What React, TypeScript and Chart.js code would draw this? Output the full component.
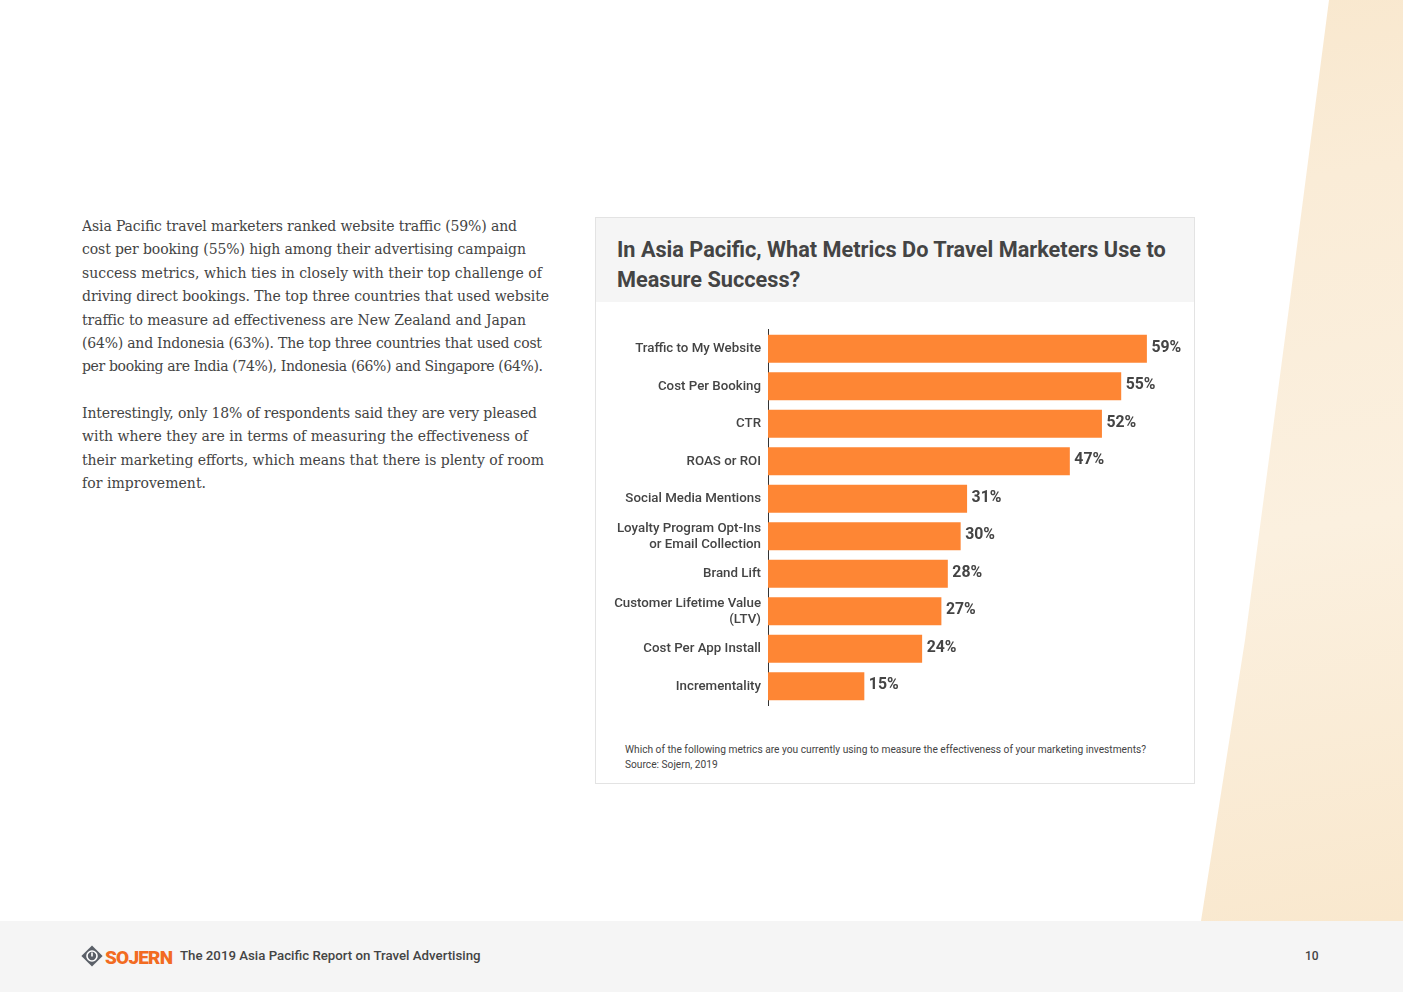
import React, { useEffect, useRef } from "react";
import { Chart, registerables } from "chart.js";

Chart.register(...registerables);

const categories: (string | string[])[] = [
  "Traffic to My Website",
  "Cost Per Booking",
  "CTR",
  "ROAS or ROI",
  "Social Media Mentions",
  ["Loyalty Program Opt-Ins", "or Email Collection"],
  "Brand Lift",
  ["Customer Lifetime Value", "(LTV)"],
  "Cost Per App Install",
  "Incrementality",
];
const values: number[] = [59, 55, 52, 47, 31, 30, 28, 27, 24, 15];

const titleText = "In Asia Pacific, What Metrics Do Travel Marketers Use to Measure Success?";
const footnoteLines = [
  "Which of the following metrics are you currently using to measure the effectiveness of your marketing investments?",
  "Source: Sojern, 2019",
];
const para1 = [
  "Asia Pacific travel marketers ranked website traffic (59%) and",
  "cost per booking (55%) high among their advertising campaign",
  "success metrics, which ties in closely with their top challenge of",
  "driving direct bookings. The top three countries that used website",
  "traffic to measure ad effectiveness are New Zealand and Japan",
  "(64%) and Indonesia (63%). The top three countries that used cost",
  "per booking are India (74%), Indonesia (66%) and Singapore (64%).",
];
const para2 = [
  "Interestingly, only 18% of respondents said they are very pleased",
  "with where they are in terms of measuring the effectiveness of",
  "their marketing efforts, which means that there is plenty of room",
  "for improvement.",
];
// rendered width of each paragraph line (layout)
const para1Widths = [435, 444, 460, 467, 444, 460, 461];
const para2Widths = [455, 446, 462, 124];

const footerText = "The 2019 Asia Pacific Report on Travel Advertising";
const pageNumber = "10";

const BAR = "#fe8634";
const TEXT = "#444444";

const valueLabels = {
  id: "valueLabels",
  afterDatasetsDraw(chart: any) {
    const ctx = chart.ctx;
    const meta = chart.getDatasetMeta(0);
    ctx.save();
    ctx.font = "bold 15.8px Roboto";
    ctx.fillStyle = TEXT;
    ctx.textBaseline = "middle";
    ctx.textAlign = "left";
    meta.data.forEach((bar: any, i: number) => {
      ctx.fillText(values[i] + "%", bar.x + 4.5, bar.y - 1);
    });
    ctx.restore();
  },
};

function BarChart() {
  const ref = useRef<HTMLCanvasElement>(null);
  useEffect(() => {
    if (!ref.current) return;
    const chart = new Chart(ref.current, {
      type: "bar",
      data: {
        labels: categories,
        datasets: [
          {
            data: values,
            backgroundColor: BAR,
            borderWidth: 0,
            barPercentage: 0.75,
            categoryPercentage: 1,
          },
        ],
      },
      options: {
        indexAxis: "y",
        animation: false,
        responsive: false,
        maintainAspectRatio: false,
        layout: { padding: { top: 10, bottom: 5, right: 11, left: 0 } },
        plugins: { legend: { display: false }, tooltip: { enabled: false } },
        scales: {
          x: { display: false, min: 0, max: 64 },
          y: {
            afterFit: (axis: any) => {
              axis.width = 168;
            },
            grid: { display: false, drawTicks: false },
            border: { display: true, color: "#333333", width: 1 },
            ticks: {
              color: TEXT,
              padding: 7,
              font: { family: "Roboto", size: 13.3, weight: "500", lineHeight: 1.2 },
            },
          },
        },
      },
      plugins: [valueLabels],
    } as any);
    return () => chart.destroy();
  }, []);
  return <canvas ref={ref} width={590} height={405} style={{ position: "absolute", left: 600, top: 315, width: 590, height: 405 }} />;
}

function Logo() {
  return (
    <svg width="96" height="24" viewBox="0 0 96 24" style={{ position: "absolute", left: 80, top: 944 }}>
      <g transform="translate(12,12)">
        <rect x="-7.5" y="-7.5" width="15" height="15" fill="#5b6068" transform="rotate(45)" />
        <circle cx="0" cy="0" r="5" fill="none" stroke="#ffffff" strokeWidth="1.6" />
        <rect x="-0.8" y="-3.5" width="1.6" height="4" fill="#ffffff" />
      </g>
      <text x="25" y="19.5" fill="#f26b21" fontFamily="Roboto" fontWeight="900" fontSize="19" letterSpacing="-0.8">
        SOJERN
      </text>
    </svg>
  );
}

function Paragraph({ lines, widths, top }: { lines: string[]; widths: number[]; top: number }) {
  const lh = 23.4;
  return (
    <svg
      width={520}
      height={lines.length * lh + 10}
      style={{ position: "absolute", left: 82, top: top - 16 }}
    >
      {lines.map((l, i) => (
        <text
          key={i}
          x={0}
          y={16 + i * lh}
          fontFamily="'DejaVu Serif', serif"
          fontSize={14}
          fill={TEXT}
          textLength={widths[i]}
          lengthAdjust="spacing"
        >
          {l}
        </text>
      ))}
    </svg>
  );
}

export default function App() {
  useEffect(() => {
    document.body.style.margin = "0";
  }, []);
  return (
    <div style={{ position: "relative", width: 1403, height: 992, overflow: "hidden", background: "#ffffff" }}>
      <div
        style={{
          position: "absolute",
          left: 0,
          top: 0,
          width: 1403,
          height: 921,
          background: "linear-gradient(170deg, #f7e3c4 0%, #faecd7 35%, #fbf0df 65%, #f9e8ce 100%)",
          clipPath: "polygon(1329px 0px, 1403px 0px, 1403px 921px, 1201px 921px, 1245px 640px, 1290px 300px)",
        }}
      />
      <Paragraph lines={para1} widths={para1Widths} top={231} />
      <Paragraph lines={para2} widths={para2Widths} top={418} />
      <div
        style={{
          position: "absolute",
          left: 595,
          top: 217,
          width: 598,
          height: 565,
          border: "1px solid #e3e3e3",
          background: "#ffffff",
        }}
      >
        <div
          style={{
            background: "#f5f5f5",
            height: 84,
            boxSizing: "border-box",
            padding: "17px 10px 0 21px",
            fontFamily: "Roboto",
            fontWeight: 700,
            fontSize: 21.7,
            lineHeight: "30px",
            color: TEXT,
          }}
        >
          {titleText}
        </div>
        <div
          style={{
            position: "absolute",
            left: 29,
            top: 524,
            fontFamily: "Roboto",
            fontSize: 10.2,
            lineHeight: "15px",
            color: TEXT,
            whiteSpace: "nowrap",
          }}
        >
          {footnoteLines.map((l, i) => (
            <div key={i}>{l}</div>
          ))}
        </div>
      </div>
      <BarChart />
      <div style={{ position: "absolute", left: 0, top: 921, width: 1403, height: 71, background: "#f5f5f5" }} />
      <Logo />
      <div
        style={{
          position: "absolute",
          left: 180,
          top: 948,
          fontFamily: "Roboto",
          fontWeight: 500,
          fontSize: 13.25,
          color: TEXT,
          whiteSpace: "nowrap",
        }}
      >
        {footerText}
      </div>
      <div
        style={{
          position: "absolute",
          left: 1305,
          top: 949,
          fontFamily: "Roboto",
          fontWeight: 500,
          fontSize: 12,
          color: TEXT,
        }}
      >
        {pageNumber}
      </div>
    </div>
  );
}
